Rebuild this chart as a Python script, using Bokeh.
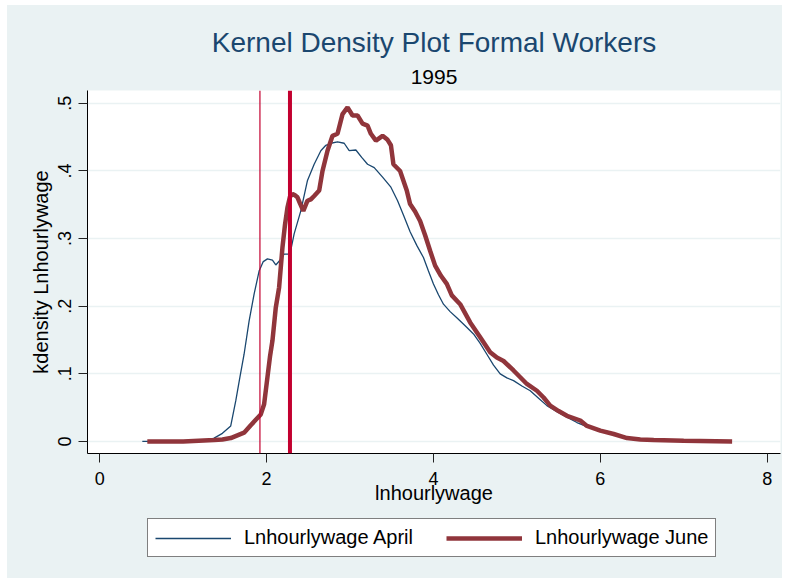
from bokeh.plotting import figure
from bokeh.layouts import column
from bokeh.models import Range1d, FixedTicker, Span, Title, Legend, LegendItem
from bokeh.embed import file_html
from bokeh.resources import INLINE

# ---------------- data ----------------
title_text = "Kernel Density Plot Formal Workers"
subtitle_text = "1995"
x_label = "lnhourlywage"
y_label = "kdensity Lnhourlywage"
series_names = ["Lnhourlywage April", "Lnhourlywage June"]

x_ticks = [0, 2, 4, 6, 8]
y_ticks = [0, 0.1, 0.2, 0.3, 0.4, 0.5]
y_tick_labels = ["0", ".1", ".2", ".3", ".4", ".5"]

# reference (minimum wage) lines, in ln hourly wage
ref_lines = [1.92, 2.28]

april_x = [0.51, 1.0, 1.27, 1.37, 1.47, 1.57, 1.63, 1.68, 1.73, 1.79,
           1.85, 1.91, 1.96, 2.01, 2.07, 2.11, 2.16, 2.21, 2.28, 2.33,
           2.41, 2.49, 2.57, 2.65, 2.71, 2.77, 2.85, 2.93, 2.99, 3.07,
           3.14, 3.21, 3.29, 3.39, 3.49, 3.57, 3.64, 3.72, 3.80, 3.88,
           3.94, 4.00, 4.06, 4.12, 4.20, 4.28, 4.38, 4.48, 4.56, 4.64,
           4.72, 4.80, 4.88, 4.96, 5.06, 5.16, 5.26, 5.36, 5.48, 5.60,
           5.72, 5.84, 6.00, 6.16, 6.32, 6.48, 6.64, 6.90, 7.20, 7.52]
april_y = [0, 0, 0.001, 0.005, 0.012, 0.023, 0.06, 0.095, 0.129, 0.178,
           0.218, 0.252, 0.266, 0.270, 0.268, 0.261, 0.268, 0.277, 0.277, 0.307,
           0.341, 0.386, 0.410, 0.430, 0.438, 0.441, 0.443, 0.441, 0.430, 0.431,
           0.420, 0.410, 0.405, 0.391, 0.376, 0.356, 0.335, 0.310, 0.290, 0.272,
           0.252, 0.233, 0.217, 0.203, 0.192, 0.183, 0.171, 0.159, 0.145, 0.129,
           0.113, 0.100, 0.094, 0.090, 0.082, 0.075, 0.064, 0.053, 0.044, 0.036,
           0.028, 0.022, 0.015, 0.010, 0.005, 0.003, 0.002, 0.001, 0.0, 0.0]

june_x = [0.57, 1.0, 1.37, 1.47, 1.57, 1.65, 1.73, 1.81, 1.87, 1.93,
          1.97, 2.01, 2.04, 2.07, 2.11, 2.15, 2.19, 2.22, 2.25, 2.28,
          2.31, 2.34, 2.37, 2.40, 2.44, 2.49, 2.53, 2.57, 2.63, 2.67,
          2.73, 2.79, 2.85, 2.91, 2.97, 3.03, 3.09, 3.15, 3.21, 3.25,
          3.31, 3.39, 3.45, 3.49, 3.52, 3.60, 3.68, 3.72, 3.78, 3.84,
          3.90, 3.96, 4.02, 4.09, 4.16, 4.22, 4.32, 4.44, 4.56, 4.68,
          4.76, 4.84, 4.96, 5.04, 5.12, 5.24, 5.32, 5.40, 5.50, 5.60,
          5.76, 5.84, 6.00, 6.16, 6.32, 6.48, 6.64, 7.0, 7.58]
june_y = [0, 0, 0.002, 0.003, 0.005, 0.009, 0.013, 0.024, 0.032, 0.040,
          0.055, 0.095, 0.125, 0.149, 0.198, 0.228, 0.287, 0.320, 0.346, 0.362,
          0.366, 0.364, 0.361, 0.352, 0.341, 0.356, 0.358, 0.363, 0.371, 0.400,
          0.430, 0.452, 0.455, 0.484, 0.494, 0.482, 0.482, 0.470, 0.467, 0.455,
          0.445, 0.452, 0.446, 0.438, 0.410, 0.400, 0.371, 0.351, 0.340, 0.326,
          0.305, 0.282, 0.260, 0.245, 0.233, 0.216, 0.203, 0.176, 0.154, 0.132,
          0.124, 0.119, 0.105, 0.095, 0.085, 0.075, 0.065, 0.053, 0.045, 0.038,
          0.031, 0.023, 0.016, 0.011, 0.005, 0.003, 0.002, 0.001, 0.0]

# ---------------- styling ----------------
FONT = "Liberation Sans"
BG = "#eaf2f3"
NAVY = "#1a476f"
MAROON = "#90353b"
LINE_RED = "#c3002f"
APR_W = 1.3
JUN_W = 4.5

# ---------------- main chart ----------------
p = figure(width=775, height=506, output_backend="svg", toolbar_location=None,
           x_range=Range1d(-0.147, 8.16), y_range=Range1d(-0.0178, 0.519),
           min_border_left=80, min_border_right=2, min_border_top=85,
           min_border_bottom=58,
           background_fill_color="white", border_fill_color=BG,
           outline_line_color=None)

p.line(april_x, april_y, line_color=NAVY, line_width=APR_W)
p.line(june_x, june_y, line_color=MAROON, line_width=JUN_W)

for loc, w in zip(ref_lines, [1.2, 4]):
    p.add_layout(Span(location=loc, dimension="height",
                      line_color=LINE_RED, line_width=w))

p.xaxis.ticker = FixedTicker(ticks=x_ticks)
p.yaxis.ticker = FixedTicker(ticks=y_ticks)
p.yaxis.major_label_overrides = {t: l for t, l in zip(y_ticks, y_tick_labels)}
p.yaxis.major_label_orientation = "vertical"
for ax in (p.xaxis, p.yaxis):
    ax.major_tick_out = 9
    ax.major_tick_in = 0
    ax.minor_tick_line_color = None
    ax.axis_line_color = "black"
    ax.major_tick_line_color = "#222222"
    ax.major_label_text_font = FONT
    ax.major_label_text_font_size = "18px"
    ax.major_label_text_color = "black"
    ax.axis_label_text_font = FONT
    ax.axis_label_text_font_size = "20px"
    ax.axis_label_text_font_style = "normal"
    ax.axis_label_text_color = "black"
p.xaxis.axis_label = x_label
p.yaxis.axis_label = y_label
p.xaxis.major_label_standoff = 9
p.xaxis.axis_label_standoff = -6
p.yaxis.major_label_standoff = 7
p.yaxis.axis_label_standoff = 4

p.xgrid.visible = False
p.ygrid.grid_line_color = BG
p.ygrid.grid_line_width = 1.3

# titles (first added sits closest to the plot)
p.add_layout(Title(text=subtitle_text, align="center", text_font=FONT,
                   text_font_size="21px", text_color="black",
                   text_font_style="normal", standoff=13), "above")
p.add_layout(Title(text=title_text, align="center", text_font=FONT,
                   text_font_size="28px", text_color=NAVY,
                   text_font_style="normal", standoff=8), "above")

# ---------------- legend strip ----------------
q = figure(width=775, height=67, output_backend="svg", toolbar_location=None,
           x_range=Range1d(0, 1), y_range=Range1d(10, 11),
           x_axis_type=None, y_axis_type=None,
           min_border=0, min_border_left=80, min_border_right=2,
           min_border_top=0, min_border_bottom=0,
           background_fill_color=None, border_fill_color=None,
           outline_line_color=None)
q.grid.visible = False
# same series, out of this strip's view: only their legend keys show
k_apr = q.line(april_x, april_y, line_color=NAVY, line_width=APR_W)
k_jun = q.line(june_x, june_y, line_color=MAROON, line_width=JUN_W)

lg = Legend(items=[LegendItem(label=series_names[0], renderers=[k_apr]),
                   LegendItem(label=series_names[1], renderers=[k_jun])],
            orientation="horizontal", location=(60, 21))
lg.label_text_font = FONT
lg.label_text_font_size = "20px"
lg.label_text_color = "black"
lg.glyph_width = 76
lg.glyph_height = 20
lg.label_standoff = 13
lg.spacing = 33
lg.padding = 7
lg.margin = 0
lg.border_line_color = "black"
lg.border_line_width = 1
lg.background_fill_color = "white"
lg.background_fill_alpha = 1
lg.click_policy = "none"
q.add_layout(lg, "center")

layout = column(p, q, spacing=0, margin=(5, 13, 5, 7),
                styles={"background-color": BG})
open("out.html", "w").write(file_html(layout, INLINE))
